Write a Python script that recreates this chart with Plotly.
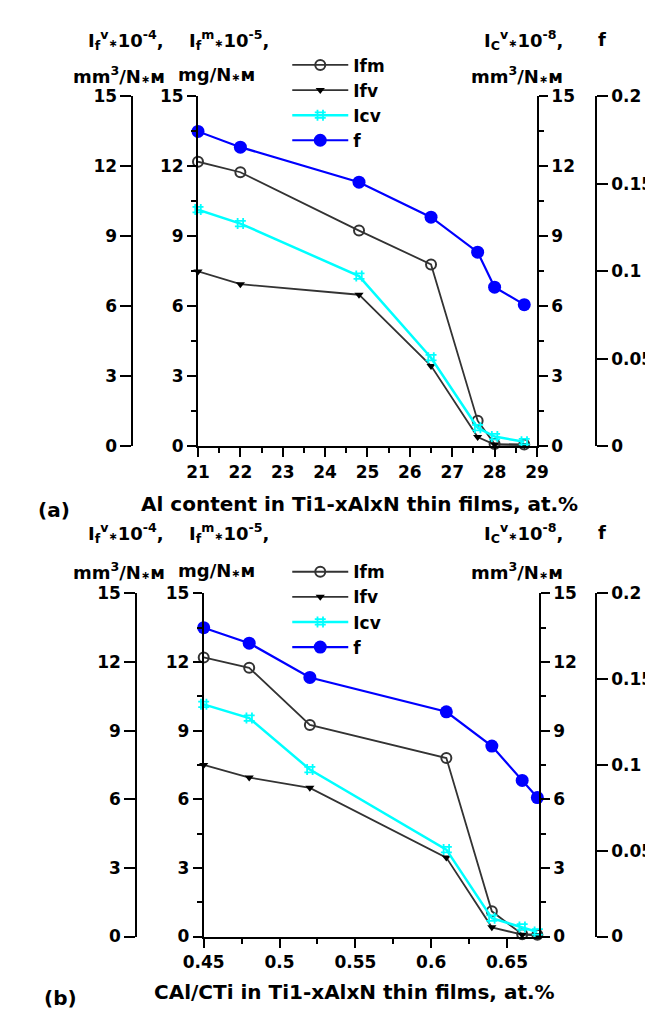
import plotly.graph_objects as go

# ---------------- data ----------------
al_content = [21.0, 22.0, 24.8, 26.5, 27.6, 28.0, 28.7]
cal_cti = [0.45, 0.48, 0.52, 0.61, 0.64, 0.66, 0.67]
ifm = [12.2, 11.75, 9.25, 7.8, 1.1, 0.1, 0.08]
ifv = [7.5, 6.95, 6.5, 3.45, 0.4, 0.08, 0.05]
icv = [10.15, 9.55, 7.3, 3.8, 0.8, 0.42, 0.2]
f_coef = [0.180, 0.171, 0.151, 0.131, 0.111, 0.091, 0.081]
series_names = ["Ifm", "Ifv", "Icv", "f"]

W, H = 653, 1013


def px(x):
    return x / W


def py(y):
    return 1 - y / H


FONT = "DejaVu Sans, Liberation Sans, Arial, sans-serif"
tickfont = dict(family=FONT, size=17, color="black", weight="bold")
DARK = "#333333"
CYAN = "#00FFFF"
BLUE = "#0000FF"

fig = go.Figure()


def add_panel(xvals, xa, ya_in, ya_out, ya_r, ya_f, leg):
    fig.add_trace(go.Scatter(x=xvals, y=ifm, name=series_names[0], mode="lines+markers",
                             line=dict(color=DARK, width=1.8),
                             marker=dict(symbol="circle-open", size=10, color=DARK, line=dict(width=2, color=DARK)),
                             xaxis=xa, yaxis=ya_in, legend=leg, cliponaxis=False))
    fig.add_trace(go.Scatter(x=xvals, y=ifv, name=series_names[1], mode="lines+markers",
                             line=dict(color=DARK, width=1.8),
                             marker=dict(symbol="triangle-down", size=8, color="black"),
                             xaxis=xa, yaxis=ya_out, legend=leg, cliponaxis=False))
    fig.add_trace(go.Scatter(x=xvals, y=icv, name=series_names[2], mode="lines+markers",
                             line=dict(color=CYAN, width=2.5),
                             marker=dict(symbol="hash-open", size=11, color=CYAN, line=dict(width=1.8, color=CYAN)),
                             xaxis=xa, yaxis=ya_r, legend=leg, cliponaxis=False))
    fig.add_trace(go.Scatter(x=xvals, y=f_coef, name=series_names[3], mode="lines+markers",
                             line=dict(color=BLUE, width=2.2),
                             marker=dict(symbol="circle", size=13, color=BLUE),
                             xaxis=xa, yaxis=ya_f, legend=leg, cliponaxis=False))


add_panel(al_content, "x", "y", "y2", "y3", "y4", "legend")
add_panel(cal_cti, "x2", "y5", "y6", "y7", "y8", "legend2")

axis_base = dict(showline=True, linecolor="black", linewidth=2, ticks="outside", ticklen=9,
                 tickwidth=2, tickcolor="black", showgrid=False, zeroline=False,
                 tickfont=tickfont)
minor_y = dict(dtick=1.5, ticks="outside", ticklen=5, tickwidth=2, tickcolor="black", showgrid=False)


def yleft(**kw):
    d = dict(axis_base, range=[0, 15], tick0=0, dtick=3)
    d.update(kw)
    return d


panels = [
    dict(top=80, bot=437, l=178, r=535, outer=109, far=597),
    dict(top=587, bot=937, l=184, r=537, outer=113, far=597),
]

layout = dict(
    width=W, height=H, autosize=False,
    margin=dict(l=0, r=0, t=0, b=0),
    paper_bgcolor="white", plot_bgcolor="white",
    font=dict(family=FONT, color="black"),
)

p = panels[0]
layout["xaxis"] = dict(axis_base, domain=[px(p["l"]), px(p["r"])], anchor="y", range=[21, 29],
                       tick0=21, dtick=1,
                       minor=dict(dtick=0.5, ticks="outside", ticklen=5, tickwidth=2, tickcolor="black", showgrid=False))
layout["yaxis"] = yleft(domain=[py(p["bot"]), py(p["top"])], anchor="x", side="left", minor=minor_y)
layout["yaxis2"] = yleft(overlaying="y", anchor="free", position=px(p["outer"]), side="left", ticklen=11)
layout["yaxis3"] = yleft(overlaying="y", anchor="x", side="right", minor=minor_y)
layout["yaxis4"] = dict(axis_base, overlaying="y", anchor="free", position=px(p["far"]), side="right",
                        range=[0, 0.2], tick0=0, dtick=0.05, ticklen=11)

p = panels[1]
layout["xaxis2"] = dict(axis_base, domain=[px(p["l"]), px(p["r"])], anchor="y5", range=[0.45, 0.671],
                        tick0=0.45, dtick=0.05,
                        minor=dict(dtick=0.025, ticks="outside", ticklen=5, tickwidth=2, tickcolor="black", showgrid=False))
layout["yaxis5"] = yleft(domain=[py(p["bot"]), py(p["top"])], anchor="x2", side="left", minor=minor_y)
layout["yaxis6"] = yleft(overlaying="y5", anchor="free", position=px(p["outer"]), side="left", ticklen=11)
layout["yaxis7"] = yleft(overlaying="y5", anchor="x2", side="right", minor=minor_y)
layout["yaxis8"] = dict(axis_base, overlaying="y5", anchor="free", position=px(p["far"]), side="right",
                        range=[0, 0.2], tick0=0, dtick=0.05, ticklen=11)

legfont = dict(family=FONT, size=17, color="black", weight="bold")
layout["legend"] = dict(x=px(272), y=py(30), xanchor="left", yanchor="top", font=legfont,
                        bgcolor="rgba(0,0,0,0)", tracegroupgap=0, itemwidth=56)
layout["legend2"] = dict(x=px(272), y=py(547), xanchor="left", yanchor="top", font=legfont,
                         bgcolor="rgba(0,0,0,0)", tracegroupgap=0, itemwidth=56)

fig.update_layout(**layout)

hfont = dict(family=FONT, size=18, color="black", weight="bold")
AST = "<span style='font-size:11px'>∗</span>"


def ann(text, x, y, size=18, xanchor="center"):
    fig.add_annotation(text=text, x=px(x), y=py(y), xref="paper", yref="paper",
                       xanchor=xanchor, yanchor="middle", showarrow=False,
                       font=dict(hfont, size=size))


for r1, r2 in ((22, 58), (525, 564)):
    ann("I<sub>f</sub><sup>v</sup>" + AST + "10<sup>-4</sup>,", 102, r1)
    ann("I<sub>f</sub><sup>m</sup>" + AST + "10<sup>-5</sup>,", 211, r1)
    ann("mm<sup>3</sup>/N" + AST + "м", 95, r2)
    ann("mg/N" + AST + "м", 197, r2)
    ann("I<sub>C</sub><sup>v</sup>" + AST + "10<sup>-8</sup>,", 521, r1)
    ann("f", 604, r1)
    ann("mm<sup>3</sup>/N" + AST + "м", 514, r2)

ann("Al content in Ti1-xAlxN thin films, at.%", 348, 496, size=20)
ann("(a)", 26, 502, size=20)
ann("CAl/CTi in Ti1-xAlxN thin films, at.%", 343, 994, size=20)
ann("(b)", 33, 1000, size=20)

fig.write_html("out.html")
